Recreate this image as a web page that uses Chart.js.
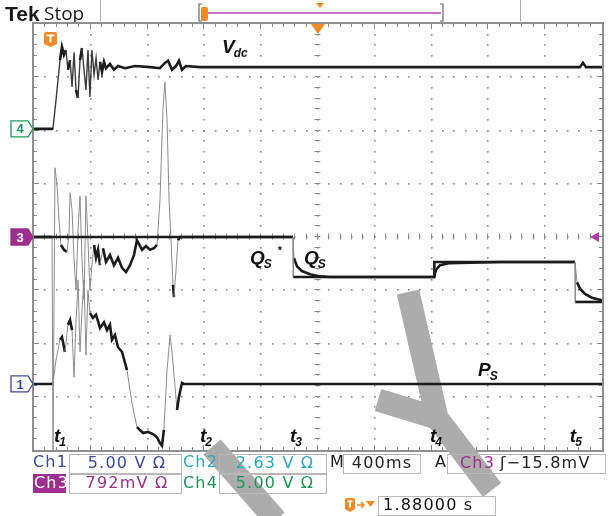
<!DOCTYPE html>
<html><head><meta charset="utf-8">
<script src="https://cdn.jsdelivr.net/npm/chart.js@4"></script>
<style>html,body{margin:0;padding:0;background:#fff;overflow:hidden}#wrap{width:611px;height:516px;position:relative}</style>
</head><body><div id="wrap"><canvas id="c" width="611" height="516"></canvas></div>
<script>
// time axis: seconds (10 div x 400 ms); values: screen divisions
const vdcT=[0,0.127,0.134,0.155,0.183,0.197,0.211,0.225,0.239,0.254,0.268,0.282,0.296,0.310,0.324,0.338,0.352,0.366,0.380,0.394,0.408,0.423,0.437,0.451,0.465,0.479,0.493,0.507,0.535,0.563,0.592,0.641,0.711,0.817,0.887,0.922,0.944,0.972,1.000,1.021,1.042,1.070,1.169,3.845,3.866,3.887,4.0];
const vdcV=[2.03,2.03,2.05,2.57,3.32,3.57,3.42,3.51,3.14,3.32,2.82,3.47,2.76,2.61,3.32,3.55,3.14,2.76,3.51,2.63,3.51,3.04,3.36,2.95,3.29,3.10,3.29,3.17,3.25,3.14,3.21,3.17,3.21,3.19,3.17,3.27,3.31,3.14,3.21,3.31,3.14,3.21,3.19,3.19,3.27,3.19,3.19];

const qsRefT=[0,1.824,1.826,2.817,2.819,3.810,3.812,4.0];
const qsRefV=[0,0,-0.75,-0.75,-0.47,-0.47,-1.22,-1.22];

const qsT=[0,0.127,0.134,0.141,0.148,0.162,0.176,0.190,0.211,0.232,0.246,0.254,0.268,0.282,0.296,0.310,0.324,0.338,0.352,0.366,0.380,0.394,0.408,0.423,0.437,0.451,0.465,0.486,0.507,0.535,0.563,0.592,0.620,0.648,0.676,0.704,0.725,0.761,0.789,0.817,0.845,0.866,0.887,0.908,0.922,0.937,0.951,0.965,0.979,0.986,1.000,1.014,1.028,1.824,1.831,1.852,1.887,1.944,2.014,2.085,2.817,2.831,2.859,2.929,3.282,3.810,3.824,3.845,3.880,3.929,4.0];
const qsV=[0,0,-4.0,-1.18,1.30,0.98,0.32,-0.15,-0.24,-0.28,0.04,0.83,0.51,-0.43,-1.0,0.13,0.77,-0.43,-1.18,0.77,-0.06,-1.0,-0.53,-0.15,-0.39,-0.24,-0.53,-0.21,-0.47,-0.34,-0.53,-0.39,-0.58,-0.66,-0.53,-0.34,-0.06,-0.24,-0.17,-0.24,-0.21,-0.15,0.69,2.38,2.91,2.20,0.69,-0.06,-0.90,-1.13,-0.62,-0.06,0,0,-0.40,-0.55,-0.64,-0.70,-0.74,-0.75,-0.75,-0.62,-0.53,-0.49,-0.47,-0.47,-0.85,-0.97,-1.07,-1.14,-1.19];

const psT=[0,0.127,0.134,0.155,0.183,0.197,0.218,0.239,0.254,0.268,0.282,0.296,0.303,0.310,0.324,0.338,0.352,0.366,0.380,0.394,0.415,0.437,0.465,0.493,0.514,0.535,0.549,0.570,0.592,0.620,0.655,0.690,0.725,0.768,0.803,0.838,0.866,0.887,0.901,0.915,0.937,0.958,0.972,0.993,1.007,1.021,1.042,1.056,4.0];
const psV=[-2.76,-2.76,-2.74,-2.31,-1.93,-1.88,-2.16,-1.65,-1.56,-1.75,-2.63,-1.56,-1.24,-0.81,-2.16,-1.37,-0.81,-2.22,-1.00,-1.43,-1.52,-1.46,-1.71,-1.60,-1.75,-1.65,-1.93,-1.84,-2.07,-2.16,-2.50,-3.12,-3.57,-3.68,-3.66,-3.70,-3.76,-3.87,-3.92,-3.62,-2.50,-1.84,-2.16,-2.80,-3.25,-3.00,-2.74,-2.76,-2.76];

const eventTimes=[0.197,1.225,1.859,2.845,3.830];
const eventNames=['1','2','3','4','5'];

const pts=(t,v)=>t.map((x,i)=>({x:x,y:v[i]}));
function steep(c){const dx=Math.abs(c.p1.x-c.p0.x),dy=Math.abs(c.p1.y-c.p0.y);return dy>16&&dy>dx*4;}
const segA={borderColor:c=>steep(c)?'#8c8c8c':'#1c1c1c',borderWidth:c=>steep(c)?1:2.6};
const segB={borderColor:c=>steep(c)?'#3a3a3a':'#1c1c1c',borderWidth:c=>steep(c)?1.4:2.6};
const ds=(d,s)=>({data:d,borderColor:'#1c1c1c',borderWidth:2.6,pointRadius:0,tension:0,fill:false,segment:s});

const ORANGE='#f08a24',MAG='#9e2f8e',BLUE='#3a48a6',CYAN='#27a9c0',GREEN='#189a55';
const FOOT='16px "DejaVu Sans", "Liberation Sans", sans-serif';

function drawSubText(ctx,x,y,main,sub,sup,size){
  ctx.font='italic bold '+size+'px "Liberation Sans", Arial, sans-serif';
  ctx.fillStyle='#111';ctx.textBaseline='alphabetic';ctx.textAlign='left';
  ctx.fillText(main,x,y);
  const w=ctx.measureText(main).width;
  if(sub){ctx.font='italic bold '+Math.round(size*0.62)+'px "Liberation Sans", Arial, sans-serif';ctx.fillText(sub,x+w-1,y+4);}
  if(sup){ctx.font='bold '+Math.round(size*0.6)+'px "Liberation Sans", Arial, sans-serif';ctx.fillText(sup,x+w+13,y-10);}
}
function tag(ctx,x,yc,label,stroke,fill,txc){
  ctx.beginPath();ctx.moveTo(x,yc-8);ctx.lineTo(x+17,yc-8);ctx.lineTo(x+22,yc);ctx.lineTo(x+17,yc+8);ctx.lineTo(x,yc+8);ctx.closePath();
  ctx.fillStyle=fill;ctx.fill();ctx.lineWidth=1.3;ctx.strokeStyle=stroke;ctx.stroke();
  ctx.fillStyle=txc;ctx.font='bold 13px "Liberation Sans", Arial, sans-serif';ctx.textAlign='center';ctx.textBaseline='middle';
  ctx.fillText(label,x+9,yc+1);
}
function tIcon(ctx,x,y,w,h){
  ctx.fillStyle=ORANGE;ctx.beginPath();
  ctx.moveTo(x,y+2);ctx.quadraticCurveTo(x,y,x+2,y);ctx.lineTo(x+w-2,y);ctx.quadraticCurveTo(x+w,y,x+w,y+2);
  ctx.lineTo(x+w,y+h-3);ctx.lineTo(x+w/2,y+h);ctx.lineTo(x,y+h-3);ctx.closePath();ctx.fill();
  ctx.fillStyle='#fff';ctx.fillRect(x+2.5,y+2.5,w-5,1.8);ctx.fillRect(x+w/2-1,y+2.5,2,h-7);
}
function box(ctx,x,y,w,h){ctx.strokeStyle='#b8b8b8';ctx.lineWidth=1;ctx.strokeRect(x+0.5,y+0.5,w,h);}
function txt(ctx,s,x,y,color,align){ctx.fillStyle=color;ctx.textAlign=align||'left';ctx.textBaseline='middle';ctx.fillText(s,x,y);}

const scope={
  id:'scope',
  beforeDatasetsDraw(chart){
    const ctx=chart.ctx,a=chart.chartArea,xs=chart.scales.x,ys=chart.scales.y;
    ctx.save();
    ctx.fillStyle='#fff';ctx.fillRect(0,0,611,516);
    // header
    ctx.fillStyle='#1a1a1a';ctx.font='bold 21px "Liberation Sans", Arial, sans-serif';ctx.textBaseline='alphabetic';ctx.textAlign='left';
    ctx.fillText('Tek',5,21);
    ctx.font='19px "Open Sans", "Liberation Sans", sans-serif';ctx.fillText('Stop',44,20);
    ctx.strokeStyle='#b0b0b0';ctx.lineWidth=1;
    ctx.beginPath();ctx.moveTo(100.5,0);ctx.lineTo(100.5,21);ctx.moveTo(520.5,0);ctx.lineTo(520.5,21);ctx.stroke();
    ctx.strokeStyle='#666';ctx.lineWidth=1.2;ctx.beginPath();
    ctx.moveTo(202,4);ctx.lineTo(199,4);ctx.lineTo(199,21);ctx.lineTo(202,21);
    ctx.moveTo(440,4);ctx.lineTo(443,4);ctx.lineTo(443,21);ctx.lineTo(440,21);ctx.stroke();
    ctx.strokeStyle='#b04aa8';ctx.lineWidth=1.5;ctx.beginPath();ctx.moveTo(204,13);ctx.lineTo(441,13);ctx.stroke();
    ctx.fillStyle=ORANGE;ctx.beginPath();ctx.roundRect?ctx.roundRect(201,7,7,14,2):ctx.rect(201,7,7,14);ctx.fill();
    ctx.beginPath();ctx.moveTo(316,3);ctx.lineTo(324,3);ctx.lineTo(320,8);ctx.closePath();ctx.fill();

    // graticule dots
    const L=a.left,R=a.right,T=a.top,B=a.bottom;
    const xd=(R-L)/10,yd=(B-T)/8;
    ctx.fillStyle='#8a8a8a';
    for(let i=1;i<10;i++){const x=xs.getPixelForValue(i*0.4);
      for(let k=1;k<40;k++){const y=T+k*yd/5;ctx.fillRect(Math.round(x)-1,Math.round(y)-1,1.6,1.6);}}
    for(let j=1;j<8;j++){const y=ys.getPixelForValue(4-j);
      for(let k=1;k<50;k++){const x=L+k*xd/5;ctx.fillRect(Math.round(x)-1,Math.round(y)-1,1.6,1.6);}}
    const cx=Math.round(xs.getPixelForValue(2.0))-0.5,cy=Math.round(ys.getPixelForValue(0))-0.5;
    ctx.strokeStyle='#8a8a8a';ctx.lineWidth=1;ctx.beginPath();
    for(let k=1;k<40;k++){const y=Math.round(T+k*yd/5)-0.5;ctx.moveTo(cx-3,y);ctx.lineTo(cx+3,y);}
    for(let k=1;k<50;k++){const x=Math.round(L+k*xd/5)-0.5;ctx.moveTo(x,cy-3);ctx.lineTo(x,cy+3);}
    for(let k=1;k<50;k++){const x=Math.round(L+k*xd/5)-0.5;const len=(k%5===0)?5:3;ctx.moveTo(x,T);ctx.lineTo(x,T+len);ctx.moveTo(x,B);ctx.lineTo(x,B-len);}
    for(let k=1;k<40;k++){const y=Math.round(T+k*yd/5)-0.5;const len=(k%5===0)?5:3;ctx.moveTo(L,y);ctx.lineTo(L+len,y);ctx.moveTo(R,y);ctx.lineTo(R-len,y);}
    ctx.stroke();
    ctx.strokeStyle='#8f8f8f';ctx.lineWidth=2;ctx.strokeRect(L-1,T-1,R-L+2,B-T+2);

    // watermark (drawn under traces)
    ctx.strokeStyle='#acacac';ctx.lineWidth=23;ctx.lineCap='butt';ctx.lineJoin='miter';
    ctx.beginPath();ctx.moveTo(408,292);ctx.lineTo(437,418);ctx.lineTo(492,490);ctx.stroke();
    ctx.beginPath();ctx.moveTo(378,400);ctx.lineTo(437,418);ctx.stroke();
    ctx.beginPath();ctx.moveTo(212,447);ctx.lineTo(276,520);ctx.stroke();

    // footer
    ctx.font=FOOT;if('letterSpacing' in ctx)ctx.letterSpacing='1.2px';
    txt(ctx,'Ch1',33,463,BLUE);box(ctx,69,454,112,19);txt(ctx,'5.00 V Ω',127,464,BLUE,'center');
    txt(ctx,'Ch2',183,463,CYAN);box(ctx,219,454,107,19);txt(ctx,'2.63 V Ω',275,464,CYAN,'center');
    txt(ctx,'M',330,463,'#222');box(ctx,343,454,77,19);txt(ctx,'400ms',382,464,'#222','center');
    txt(ctx,'A',435,463,'#222');box(ctx,447,454,158,19);txt(ctx,'Ch3',460,464,MAG);txt(ctx,'\u0283\u221215.8mV',500,464,'#222');
    ctx.fillStyle=MAG;ctx.fillRect(33,474,33,19);txt(ctx,'Ch3',34,484,'#fff');
    box(ctx,69,474,112,19);txt(ctx,'792mV Ω',127,484,MAG,'center');
    txt(ctx,'Ch4',183,484,GREEN);box(ctx,219,474,107,19);txt(ctx,'5.00 V Ω',275,484,GREEN,'center');
    tIcon(ctx,345,498,10,14);
    ctx.strokeStyle=ORANGE;ctx.lineWidth=1.5;ctx.beginPath();ctx.moveTo(357,505);ctx.lineTo(364,505);ctx.moveTo(361,502);ctx.lineTo(364,505);ctx.lineTo(361,508);ctx.stroke();
    ctx.fillStyle=ORANGE;ctx.beginPath();ctx.moveTo(366,501);ctx.lineTo(375,501);ctx.lineTo(370.5,507);ctx.closePath();ctx.fill();
    box(ctx,378,496,117,19);txt(ctx,'1.88000 s',383,506,'#111');
    if('letterSpacing' in ctx)ctx.letterSpacing='0px';
    ctx.restore();
  },
  afterDatasetsDraw(chart){
    const ctx=chart.ctx,a=chart.chartArea,xs=chart.scales.x,ys=chart.scales.y;
    ctx.save();
    tag(ctx,11,ys.getPixelForValue(2.03),'4',GREEN,'#fff',GREEN);
    tag(ctx,11,ys.getPixelForValue(0),'3',MAG,MAG,'#fff');
    tag(ctx,11,ys.getPixelForValue(-2.76),'1',BLUE,'#fff',BLUE);
    const ty=ys.getPixelForValue(0);
    ctx.fillStyle='#b03aa6';ctx.beginPath();ctx.moveTo(590,ty);ctx.lineTo(599,ty-5);ctx.lineTo(599,ty+5);ctx.closePath();ctx.fill();
    const tx=xs.getPixelForValue(2.0);
    ctx.fillStyle=ORANGE;ctx.beginPath();ctx.moveTo(tx-7,a.top);ctx.lineTo(tx+7,a.top);ctx.lineTo(tx,a.top+10);ctx.closePath();ctx.fill();
    tIcon(ctx,44,32,13,15);
    drawSubText(ctx,222,53,'V','dc',null,19);
    drawSubText(ctx,250,264,'Q','S','*',19);
    drawSubText(ctx,304,264,'Q','S',null,19);
    drawSubText(ctx,478,376,'P','S',null,19);
    eventTimes.forEach((t,i)=>{drawSubText(ctx,xs.getPixelForValue(t)-8,442,'t',eventNames[i],null,19);});
    ctx.restore();
  }
};

new Chart(document.getElementById('c'),{
  type:'line',
  data:{datasets:[ds(pts(vdcT,vdcV),segB),ds(pts(qsRefT,qsRefV),segA),ds(pts(qsT,qsV),segA),ds(pts(psT,psV),segA)]},
  options:{responsive:false,animation:false,devicePixelRatio:1,
    layout:{padding:{left:34,top:24,right:9,bottom:66}},
    scales:{x:{type:'linear',min:0,max:4,display:false},y:{min:-4,max:4,display:false}},
    plugins:{legend:{display:false},tooltip:{enabled:false}},
    elements:{line:{borderCapStyle:'butt'}}
  },
  plugins:[scope]
});
</script></body></html>
